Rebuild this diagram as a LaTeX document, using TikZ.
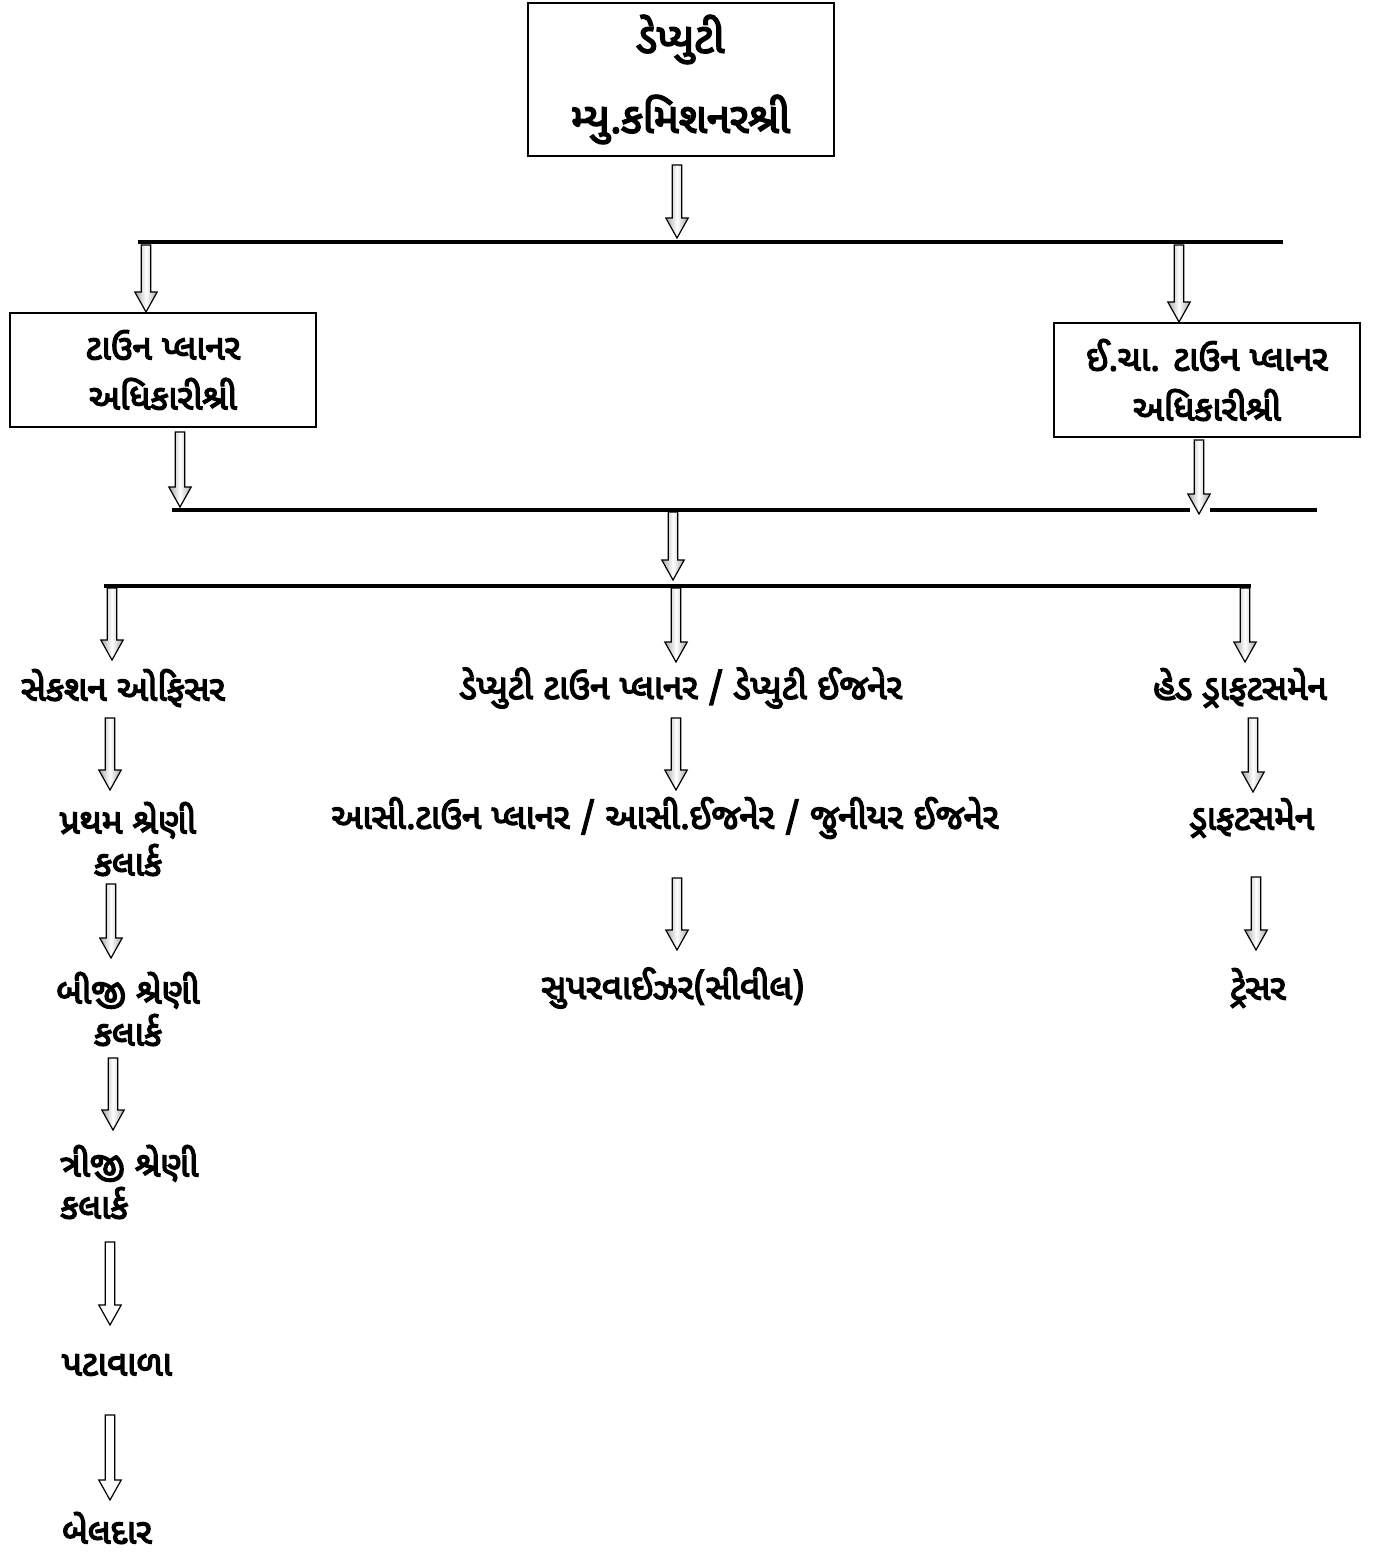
\documentclass[tikz,border=0pt]{standalone}
\usepackage{fontspec}
\newfontfamily\guj[Script=Gujarati,AutoFakeBold=4]{Noto Sans Gujarati UI}
\usetikzlibrary{calc,positioning}

% hollow down arrow: x of the tail, y of the tip
\newcommand{\garrow}[3][harrow]{%
  \path[#1] let \p1=(#2), \p2=(#3) in
    (\x1-2.4pt,\y1) -- (\x1-2.4pt,\y2+10pt) -- (\x1-5.6pt,\y2+10pt) -- (\x1,\y2)
    -- (\x1+5.6pt,\y2+10pt) -- (\x1+2.4pt,\y2+10pt) -- (\x1+2.4pt,\y1) -- cycle;}

\tikzset{
  post/.style={rectangle, draw, line width=1pt, align=center, inner sep=0pt,
    minimum width=153pt, minimum height=57pt, font=\guj\bfseries\fontsize{17.5}{25}\selectfont},
  rank/.style={align=center, inner sep=0pt, font=\guj\bfseries\fontsize{17.5}{21}\selectfont},
  bar/.style={line width=2pt},
  harrow/.style={draw, line width=0.6pt, left color=gray!70, right color=gray!70, middle color=white},
  plainarrow/.style={draw, line width=0.6pt, fill=white},
}

\begin{document}
\begin{tikzpicture}[x=0.5pt, y=-0.5pt]
\useasboundingbox (0,0) rectangle (1386,1556);

% boxes
\node [post, minimum height=76.5pt, font=\guj\bfseries\fontsize{21}{40}\selectfont] (dmc) at (680.5,79.5) {ડેપ્યુટી\\મ્યુ.કમિશનરશ્રી};
\node [post] (tpo) at (163,370) {ટાઉન પ્લાનર\\અધિકારીશ્રી};
\node [post] (ictpo) at (1207,380) {ઈ.ચા. ટાઉન પ્લાનર\\અધિકારીશ્રી};

% bars
\coordinate (b1w) at (138,242);
\coordinate (b1e) at (1283,242);
\coordinate (b2w) at (172,510);
\coordinate (b2g) at (1190,510);
\coordinate (b2h) at (1210,510);
\coordinate (b2e) at (1317,510);
\coordinate (b3w) at (104,586);
\coordinate (b3e) at (1251,586);
\draw [bar] (b1w) -- (b1e);
\draw [bar] (b2w) -- (b2g);
\draw [bar] (b2h) -- (b2e);
\draw [bar] (b3w) -- (b3e);

% ranks
\node [rank] (so) at (123,688) {સેકશન ઓફિસર};
\node [rank] (dtp) at (681,688) {ડેપ્યુટી ટાઉન પ્લાનર / ડેપ્યુટી ઈજનેર};
\node [rank] (hd) at (1240,688) {હેડ ડ્રાફટસમેન};
\node [rank] (c1) at (128,839) {પ્રથમ શ્રેણી\\કલાર્ક};
\node [rank] (c2) at (128,1009) {બીજી શ્રેણી\\કલાર્ક};
\node [rank, align=left, anchor=west] (c3) at (60,1182) {ત્રીજી શ્રેણી\\કલાર્ક};
\node [rank] (pw) at (117,1365) {પટાવાળા};
\node [rank] (bd) at (107,1528) {બેલદાર};
\node [rank] (atp) at (665,818) {આસી.ટાઉન પ્લાનર / આસી.ઈજનેર / જુનીયર ઈજનેર};
\node [rank] (sup) at (673,988) {સુપરવાઈઝર(સીવીલ)};
\node [rank] (df) at (1252,818) {ડ્રાફટસમેન};
\node [rank] (tr) at (1258,988) {ટ્રેસર};

% arrow ends
\coordinate (t0) at (677,165);   \coordinate (h0) at (677,238);
\coordinate (t1) at (146,245);
\coordinate (t2) at (1179,245);
\coordinate (t3) at (180,432);   \coordinate (h3) at (180,507);
\coordinate (t4) at (1199,440);  \coordinate (h4) at (1199,514);
\coordinate (t5) at (673,512);   \coordinate (h5) at (673,580);
\coordinate (t6) at (112,588);   \coordinate (h6) at (112,660);
\coordinate (t7) at (676,588);   \coordinate (h7) at (676,662);
\coordinate (t8) at (1245,588);  \coordinate (h8) at (1245,662);
\coordinate (t9) at (110,718);   \coordinate (h9) at (110,790);
\coordinate (t10) at (111,884);  \coordinate (h10) at (111,958);
\coordinate (t11) at (113,1058); \coordinate (h11) at (113,1130);
\coordinate (t12) at (110,1242); \coordinate (h12) at (110,1325);
\coordinate (t13) at (110,1415); \coordinate (h13) at (110,1500);
\coordinate (t14) at (676,718);  \coordinate (h14) at (676,790);
\coordinate (t15) at (677,878);  \coordinate (h15) at (677,950);
\coordinate (t16) at (1253,718); \coordinate (h16) at (1253,792);
\coordinate (t17) at (1256,877); \coordinate (h17) at (1256,950);

% arrows
\garrow{t0}{h0}
\garrow{t1}{tpo.north}
\garrow{t2}{ictpo.north}
\garrow{t3}{h3}
\garrow{t4}{h4}
\garrow{t5}{h5}
\garrow{t6}{h6}
\garrow{t7}{h7}
\garrow{t8}{h8}
\garrow{t9}{h9}
\garrow{t10}{h10}
\garrow{t11}{h11}
\garrow[plainarrow]{t12}{h12}
\garrow[plainarrow]{t13}{h13}
\garrow{t14}{h14}
\garrow{t15}{h15}
\garrow{t16}{h16}
\garrow{t17}{h17}
\end{tikzpicture}
\end{document}
